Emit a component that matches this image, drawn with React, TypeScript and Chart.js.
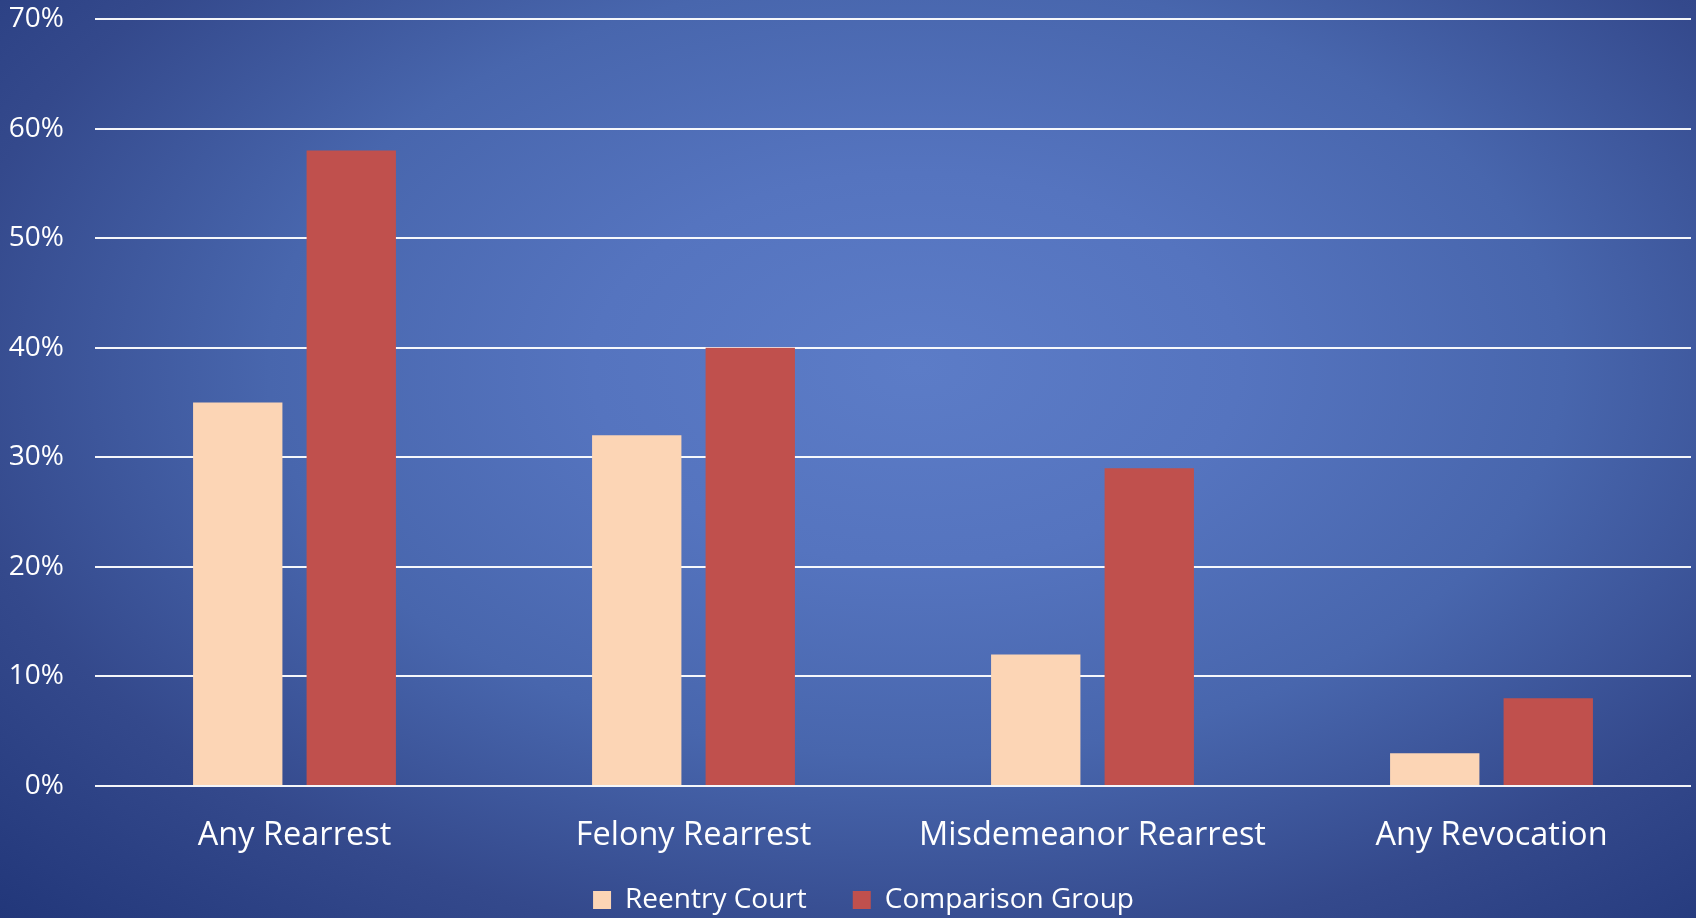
import React, { useEffect, useRef } from "react";
import { Chart, registerables } from "chart.js";

Chart.register(...registerables);

const categories = ["Any Rearrest", "Felony Rearrest", "Misdemeanor Rearrest", "Any Revocation"];
const reentryCourt = [35, 32, 12, 3];
const comparisonGroup = [58, 40, 29, 8];
const seriesNames = ["Reentry Court", "Comparison Group"];
const seriesColors = ["#fcd5b5", "#c0504d"];

const FONT = "'Open Sans', 'Noto Sans', sans-serif";

// Places the legend row centred under the plot area, just above the bottom edge.
const legendShift = {
  id: "legendShift",
  afterLayout(chart: any) {
    const l = chart.legend;
    if (l) {
      l.left += 18;
      l.right += 18;
      l.top -= 24;
      l.height += 24;
    }
  },
};

export default function App() {
  const canvasRef = useRef<HTMLCanvasElement | null>(null);

  useEffect(() => {
    if (!canvasRef.current) return;
    const chart = new Chart(canvasRef.current, {
      type: "bar",
      data: {
        labels: categories,
        datasets: [
          {
            label: seriesNames[0],
            data: reentryCourt,
            backgroundColor: seriesColors[0],
            categoryPercentage: 0.569,
            barPercentage: 0.787,
          },
          {
            label: seriesNames[1],
            data: comparisonGroup,
            backgroundColor: seriesColors[1],
            categoryPercentage: 0.569,
            barPercentage: 0.787,
          },
        ],
      },
      plugins: [legendShift],
      options: {
        animation: false,
        responsive: true,
        maintainAspectRatio: false,
        layout: { padding: { top: 19, right: 5, left: 0, bottom: 0 } },
        plugins: {
          tooltip: { enabled: false },
          legend: {
            position: "bottom",
            maxHeight: 54,
            labels: {
              color: "#ffffff",
              font: { family: FONT, size: 28 },
              boxWidth: 18,
              boxHeight: 18,
              padding: 46,
            },
          },
        },
        scales: {
          x: {
            grid: { display: false },
            border: { display: false },
            ticks: {
              color: "#ffffff",
              font: { family: FONT, size: 32.5 },
              padding: 22,
              maxRotation: 0,
            },
            afterFit(scale: any) {
              scale.height = 78;
            },
          },
          y: {
            min: 0,
            max: 70,
            border: { display: false },
            grid: { color: "rgba(255,255,255,0.95)", lineWidth: 2, drawTicks: false },
            ticks: {
              stepSize: 10,
              color: "#ffffff",
              font: { family: FONT, size: 28 },
              padding: 31,
              callback: (v: any) => v + "%",
            },
            afterFit(scale: any) {
              scale.width = 95;
              scale.paddingTop = 0;
              scale.paddingBottom = 0;
            },
          },
        },
      },
    });
    return () => chart.destroy();
  }, []);

  return (
    <div
      style={{
        position: "fixed",
        left: 0,
        top: 0,
        width: 1696,
        height: 918,
        background:
          "radial-gradient(ellipse at 54% 40%, #5c7cc7 0%, #5574bf 25%, #4866ad 50%, #34498c 75%, #22377a 100%)",
      }}
    >
      <canvas ref={canvasRef} />
    </div>
  );
}
